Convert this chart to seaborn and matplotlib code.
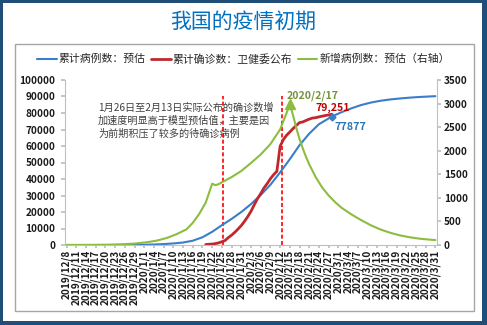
import numpy as np
import pandas as pd
import matplotlib
matplotlib.use("Agg")
import matplotlib.pyplot as plt
import seaborn as sns
from matplotlib.patches import Rectangle

# ---------------- data (x = days since 2019-12-08) ----------------
tick_labels = [
    "2019/12/8", "2019/12/11", "2019/12/14", "2019/12/17", "2019/12/20",
    "2019/12/23", "2019/12/26", "2019/12/29", "2020/1/1", "2020/1/4",
    "2020/1/7", "2020/1/10", "2020/1/13", "2020/1/16", "2020/1/19",
    "2020/1/22", "2020/1/25", "2020/1/28", "2020/1/31", "2020/2/3",
    "2020/2/6", "2020/2/9", "2020/2/12", "2020/2/15", "2020/2/18",
    "2020/2/21", "2020/2/24", "2020/2/27", "2020/3/1", "2020/3/4",
    "2020/3/7", "2020/3/10", "2020/3/13", "2020/3/16", "2020/3/19",
    "2020/3/22", "2020/3/25", "2020/3/28", "2020/3/31",
]

# cumulative cases, model estimate (left axis)
est_days = [0, 6, 12, 18, 21, 24, 27, 30, 33, 36, 39, 42, 45, 48, 51, 54, 57,
            60, 63, 66, 69, 72, 75, 78, 82, 85, 88, 91, 94, 97, 100, 103, 106,
            109, 112, 114]
est_cum = [0, 0, 10, 40, 80, 160, 300, 550, 950, 1500, 2600, 4700, 8000,
           12000, 15800, 20000, 24800, 30300, 36500, 44000, 52000, 60500,
           67500, 73200, 77877, 80500, 82800, 84800, 86300, 87400, 88200,
           88800, 89300, 89700, 90000, 90200]

# cumulative confirmed, NHC (left axis), 2020/1/20 .. 2020/2/28
conf_days = list(range(43, 83))
conf_cum = [291, 440, 571, 830, 1287, 1975, 2744, 4515, 5974, 7711, 9692,
            11791, 14380, 17205, 20438, 24324, 28018, 31161, 34546, 37198,
            40171, 42638, 44653, 59804, 63851, 66492, 68500, 70548, 72436,
            74185, 74576, 75465, 76288, 76936, 77150, 77658, 78064, 78497,
            78824, 79251]

# new cases, model estimate (right axis)
new_days = [0, 9, 13, 17, 21, 25, 28, 31, 34, 37, 39, 41, 43, 45, 46, 47, 48,
            51, 54, 57, 60, 63, 66, 68, 69, 70, 71, 72, 73, 74, 75, 77, 79, 81,
            83, 85, 88, 91, 94, 97, 100, 103, 106, 109, 112, 114]
new_cases = [0, 2, 5, 15, 30, 60, 95, 150, 230, 330, 470, 660, 900, 1300,
             1270, 1290, 1330, 1440, 1570, 1740, 1920, 2140, 2450, 2800, 2990,
             2750, 2480, 2250, 2050, 1870, 1710, 1440, 1220, 1050, 910, 790,
             650, 530, 420, 330, 260, 205, 165, 135, 115, 105]

dashed_days = [48.4, 66.5]
dashed_top = 90300

peak_day, peak_val, peak_label = 69, 2990, "2020/2/17"
conf_last_day, conf_last_label = 82, "79,251"
est_mark_day, est_mark_val, est_mark_label = 82, 77877, "77877"

series_names = ["累计病例数：预估", "累计确诊数：卫健委公布", "新增病例数：预估（右轴）"]
title = "我国的疫情初期"
note = ("1月26日至2月13日实际公布的确诊数增\n"
        "加速度明显高于模型预估值，主要是因\n"
        "为前期积压了较多的待确诊病例")

# ---------------- style ----------------
sns.set_theme(style="white")
plt.rcParams["font.family"] = ["Noto Sans CJK SC", "DejaVu Sans"]
plt.rcParams["axes.unicode_minus"] = False

BLUE = "#3a7dc9"
RED = "#c0282d"
GREEN = "#8cbd3f"
TXT = "#1a1a1a"
SPINE = "#bfbfbf"

W, H = 487, 325
fig = plt.figure(figsize=(W / 100, H / 100), dpi=100, facecolor="#1f4e79")
fig.add_artist(Rectangle((3 / W, 4 / H), 479 / W, 318 / H, transform=fig.transFigure,
                         facecolor="white", edgecolor="none", zorder=-10))
fig.add_artist(Rectangle((15 / W, 1 - 311 / H), (474 - 15) / W, (311 - 44) / H,
                         transform=fig.transFigure, facecolor="none",
                         edgecolor="#a6a6a6", lw=1.0, zorder=-5))

fig.text(0.5, 1 - 21.5 / H, title, ha="center", va="center", fontsize=15,
         color="#0070c0", fontweight="medium")

ax = fig.add_axes([65 / W, 1 - 245 / H, (437 - 65) / W, (245 - 80) / H])
ax.set_facecolor("none")
ax2 = ax.twinx()

sns.lineplot(x=est_days, y=est_cum, ax=ax, color=BLUE, lw=1.5,
             label=series_names[0], legend=False)
sns.lineplot(x=conf_days, y=conf_cum, ax=ax, color=RED, lw=2.0,
             label=series_names[1], legend=False)
sns.lineplot(x=new_days, y=new_cases, ax=ax2, color=GREEN, lw=1.5,
             label=series_names[2], legend=False)

for d in dashed_days:
    ax.plot([d, d], [0, dashed_top], color="#ff0000", lw=1.2,
            linestyle=(0, (2.4, 1.4)), zorder=1)

ax.plot([est_mark_day], [est_mark_val], marker="D", ms=3.5, color=BLUE)
ax2.plot([peak_day], [peak_val], marker="^", ms=7, color=GREEN)

tick_font = dict(fontsize=7.2, color=TXT, fontweight="bold")
ax.set_xlim(-0.5, 114.5)
ax.set_ylim(0, 100000)
ax2.set_ylim(0, 3500)
ax.set_xticks(np.arange(0, 115, 3))
ax.set_xticklabels(tick_labels, rotation=90, **tick_font)
ax.set_yticks(np.arange(0, 100001, 10000))
ax.set_yticklabels([f"{v}" for v in np.arange(0, 100001, 10000)], **tick_font)
ax2.set_yticks(np.arange(0, 3501, 500))
ax2.set_yticklabels([f"{v}" for v in np.arange(0, 3501, 500)], **tick_font)
for a in (ax, ax2):
    a.set_xlabel("")
    a.set_ylabel("")
    a.grid(False)
    for s in a.spines.values():
        s.set_color(SPINE)
        s.set_linewidth(0.8)
    a.spines["top"].set_visible(False)
ax.spines["right"].set_visible(False)
ax2.spines["left"].set_visible(False)
ax2.spines["bottom"].set_visible(False)
ax.tick_params(axis="y", direction="out", length=3, pad=4, color=SPINE, left=True)
ax.tick_params(axis="x", direction="out", length=2.5, pad=1, color=SPINE, bottom=True)
ax2.tick_params(axis="y", direction="out", length=3, pad=2, color=SPINE, right=True)

# annotations
ax.text(9.7, 86700, note, ha="left", va="top", fontsize=7.3, color="#404040",
        linespacing=1.35)
ax2.text(68.0, 3160, peak_label, ha="left", va="center", fontsize=7.6,
         color="#77933c", fontweight="bold")
ax.text(conf_last_day + 0.4, 83300, conf_last_label, ha="center", va="center",
        fontsize=7.6, color="#c00000", fontweight="bold")
ax.text(87.6, 71700, est_mark_label, ha="center", va="center", fontsize=7.8,
        color="#2e75b6", fontweight="bold")

h1, l1 = ax.get_legend_handles_labels()
h2, l2 = ax2.get_legend_handles_labels()
keep = [(h, l) for h, l in zip(h1 + h2, l1 + l2) if l in series_names]
leg = fig.legend([k[0] for k in keep], [k[1] for k in keep], loc="center",
                 bbox_to_anchor=(0.5, 1 - 59 / H), ncol=3, frameon=False,
                 fontsize=7.8, handlelength=1.8, handletextpad=0.2,
                 columnspacing=0.5)
for t in leg.get_texts():
    t.set_color("#262626")

fig.savefig("out.png", dpi=100, facecolor=fig.get_facecolor())
